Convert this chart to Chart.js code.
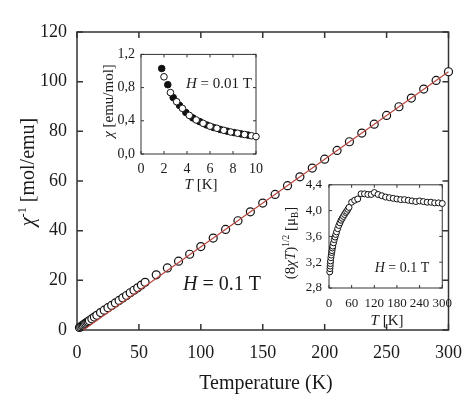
<!DOCTYPE html>
<html>
<head>
<meta charset="utf-8">
<script src="https://cdn.jsdelivr.net/npm/chart.js@4"></script>
<style>
  body { margin: 0; background: #fff; }
  canvas { position: absolute; }
</style>
</head>
<body>
<canvas id="main" width="474" height="397" style="left:0;top:0"></canvas>
<canvas id="inset1" width="180" height="160" style="left:90px;top:40px"></canvas>
<canvas id="inset2" width="190" height="165" style="left:270px;top:170px"></canvas>
<script>
// main plot: inverse susceptibility vs temperature
const mainT = [2, 3, 4, 5, 6, 7, 8, 9, 10, 12, 14, 16, 19, 22, 25, 28, 31, 34, 37, 40, 43, 46, 49, 52, 55,
  64, 73, 82, 91, 100, 110, 120, 130, 140, 150, 160, 170, 180, 190, 200, 210, 220, 230, 240, 250, 260, 270, 280, 290, 300];
const mainChi = [1.0, 1.3, 1.7, 2.0, 2.4, 2.7, 3.1, 3.4, 3.8, 4.5, 5.2, 5.9, 7.0, 8.0, 9.0, 9.9, 10.9, 11.9, 12.9, 13.9, 15.0, 16.0, 17.0, 18.1, 19.2,
  22.2, 25.0, 27.7, 30.5, 33.6, 37.0, 40.5, 44.0, 47.6, 51.1, 54.6, 58.1, 61.7, 65.2, 68.8, 72.3, 75.8, 79.3, 82.9, 86.4, 89.9, 93.4, 97.0, 100.5, 104.0];
const fitT = [5, 300];
const fitChi = [0, 104];

// inset 1: chi vs T at low temperature (alternating filled / open symbols)
const filledT = [1.8, 2.33, 2.8, 3.35, 3.9, 4.5, 5.1, 5.7, 6.3, 6.9, 7.5, 8.1, 8.7, 9.3];
const filledChi = [1.03, 0.835, 0.68, 0.585, 0.50, 0.435, 0.39, 0.35, 0.32, 0.295, 0.275, 0.258, 0.242, 0.228];
const openT = [2.0, 2.56, 3.1, 3.6, 4.2, 4.8, 5.4, 6.0, 6.6, 7.2, 7.8, 8.4, 9.0, 9.6, 10.0];
const openChi = [0.93, 0.74, 0.63, 0.55, 0.465, 0.41, 0.37, 0.335, 0.31, 0.285, 0.265, 0.25, 0.235, 0.22, 0.21];

// inset 2: effective moment vs T
const muT = [2, 2.5, 3, 3.5, 4, 5, 6, 7, 8, 9, 10, 12, 14, 16, 18, 20, 23, 26, 29, 32, 35, 38, 41, 44, 47, 50, 53,
  60, 68, 76, 85, 94, 103, 112, 120, 130, 140, 150, 160, 170, 180, 190, 200, 210, 220, 230, 240, 250, 260, 270, 280, 290, 300];
const muEff = [3.05, 3.10, 3.14, 3.18, 3.22, 3.27, 3.31, 3.35, 3.38, 3.42, 3.45, 3.50, 3.55, 3.59, 3.63, 3.67, 3.72, 3.77, 3.81, 3.85, 3.88, 3.91, 3.94, 3.97, 3.99, 4.02, 4.05,
  4.13, 4.16, 4.18, 4.26, 4.26, 4.25, 4.25, 4.28, 4.25, 4.23, 4.21, 4.20, 4.19, 4.18, 4.17, 4.17, 4.16, 4.15, 4.14, 4.15, 4.14, 4.13, 4.13, 4.12, 4.12, 4.11];

const FONT = '"Liberation Serif", "Times New Roman", serif';
const pts = (xs, ys) => xs.map((x, i) => ({x: x, y: ys[i]}));
const comma = v => v.toFixed(1).replace('.', ',');

function drawRich(ctx, t, ox, oy) {
    ctx.save();
    ctx.translate(t.x - ox, t.y - oy);
    if (t.rot) ctx.rotate(-Math.PI / 2);
    ctx.fillStyle = '#1a1a1a';
    ctx.textBaseline = 'alphabetic';
    const fontOf = k => (k === 'i' ? 'italic ' : '') + ((k === 'sup' || k === 'sub') ? t.size * 0.62 : t.size) + 'px ' + FONT;
    let w = 0;
    t.parts.forEach(p => { ctx.font = fontOf(p[1]); w += ctx.measureText(p[0]).width; });
    let x = -w / 2;
    const base = t.size * 0.33;
    t.parts.forEach(p => {
        ctx.font = fontOf(p[1]);
        let dy = 0;
        if (p[1] === 'sup') dy = -t.size * 0.4;
        if (p[1] === 'sub') dy = t.size * 0.18;
        ctx.fillText(p[0], x, base + dy);
        x += ctx.measureText(p[0]).width;
    });
    ctx.restore();
}

function boxPlugin(len, lw, texts, ox, oy) {
    return {
        id: 'box',
        beforeDatasetsDraw(chart) {
            const {ctx, chartArea: a} = chart;
            const xs = chart.scales.x, ys = chart.scales.y;
            ctx.save();
            ctx.strokeStyle = '#333';
            ctx.lineWidth = lw;
            ctx.strokeRect(a.left, a.top, a.right - a.left, a.bottom - a.top);
            ctx.beginPath();
            xs.ticks.forEach(tk => {
                const px = xs.getPixelForValue(tk.value);
                ctx.moveTo(px, a.bottom); ctx.lineTo(px, a.bottom - len);
                ctx.moveTo(px, a.top); ctx.lineTo(px, a.top + len);
            });
            ys.ticks.forEach(tk => {
                const py = ys.getPixelForValue(tk.value);
                ctx.moveTo(a.left, py); ctx.lineTo(a.left + len, py);
                ctx.moveTo(a.right, py); ctx.lineTo(a.right - len, py);
            });
            ctx.stroke();
            ctx.restore();
        },
        afterDraw(chart) {
            texts.forEach(t => drawRich(chart.ctx, t, ox, oy));
        }
    };
}

function axis(min, max, step, size, pad, fixed, horiz, cb) {
    return {
        type: 'linear', min: min, max: max,
        afterFit: s => { if (horiz) s.height = fixed; else s.width = fixed; },
        grid: {display: false, drawTicks: false},
        border: {display: false},
        ticks: {stepSize: step, padding: pad, color: '#1a1a1a', font: {family: FONT, size: size}, callback: cb,
            autoSkip: false, maxRotation: 0, minRotation: 0}
    };
}

function baseOptions(padTop, padRight, scales) {
    return {
        responsive: false, animation: false, events: [],
        layout: {padding: {top: padTop, right: padRight, left: 0, bottom: 0}},
        plugins: {legend: {display: false}, tooltip: {enabled: false}},
        scales: scales
    };
}

new Chart(document.getElementById('main'), {
    type: 'scatter',
    data: {
        datasets: [
            {data: pts(fitT, fitChi), showLine: true, borderColor: '#b9473f', borderWidth: 1.2, pointRadius: 0, order: 0, clip: false},
            {data: pts(mainT, mainChi), pointRadius: 4, pointBorderWidth: 1.2, pointBackgroundColor: '#fff', pointBorderColor: '#111', order: 1, clip: false}
        ]
    },
    options: baseOptions(32, 18, {
        x: axis(0, 300, 50, 18, 12, 67, true),
        y: axis(0, 120, 20, 18, 10, 77, false)
    }),
    plugins: [boxPlugin(6, 1.5, [
        {parts: [['Temperature (K)', '']], x: 266, y: 382, size: 20},
        {parts: [['χ', 'i'], ['-1', 'sup'], [' [mol/emu]', '']], x: 27, y: 172, size: 20, rot: true},
        {parts: [['H', 'i'], [' = 0.1 T', '']], x: 222, y: 283, size: 20}
    ], 0, 0)]
});

new Chart(document.getElementById('inset1'), {
    type: 'scatter',
    data: {
        datasets: [
            {data: pts(filledT, filledChi), pointRadius: 3.3, pointBorderWidth: 1, pointBackgroundColor: '#111', pointBorderColor: '#111', order: 1, clip: false},
            {data: pts(openT, openChi), pointRadius: 3.3, pointBorderWidth: 1, pointBackgroundColor: '#fff', pointBorderColor: '#111', order: 0, clip: false}
        ]
    },
    options: baseOptions(13, 12, {
        x: axis(0, 10, 2, 14, 7, 46, true),
        y: axis(0, 1.2, 0.4, 14, 6, 51, false, comma)
    }),
    plugins: [boxPlugin(3, 1, [
        {parts: [['T', 'i'], [' [K]', '']], x: 201, y: 184, size: 15},
        {parts: [['χ', 'i'], [' [emu/mol]', '']], x: 108, y: 101, size: 15, rot: true},
        {parts: [['H', 'i'], [' = 0.01 T', '']], x: 219, y: 83, size: 15}
    ], 90, 40)]
});

new Chart(document.getElementById('inset2'), {
    type: 'scatter',
    data: {
        datasets: [
            {data: pts(muT, muEff), pointRadius: 3, pointBorderWidth: 1, pointBackgroundColor: '#fff', pointBorderColor: '#111', clip: false}
        ]
    },
    options: baseOptions(14, 14, {
        x: axis(0, 300, 60, 13, 8, 47, true),
        y: axis(2.8, 4.4, 0.4, 13, 7, 59, false, comma)
    }),
    plugins: [boxPlugin(3, 1, [
        {parts: [['T', 'i'], [' [K]', '']], x: 387, y: 320, size: 15},
        {parts: [['(8', ''], ['χ', 'i'], ['T', 'i'], [')', ''], ['1/2', 'sup'], [' [μ', ''], ['B', 'sub'], [']', '']], x: 290, y: 243, size: 15, rot: true},
        {parts: [['H', 'i'], [' = 0.1 T', '']], x: 402, y: 267, size: 14}
    ], 270, 170)]
});
</script>
</body>
</html>
